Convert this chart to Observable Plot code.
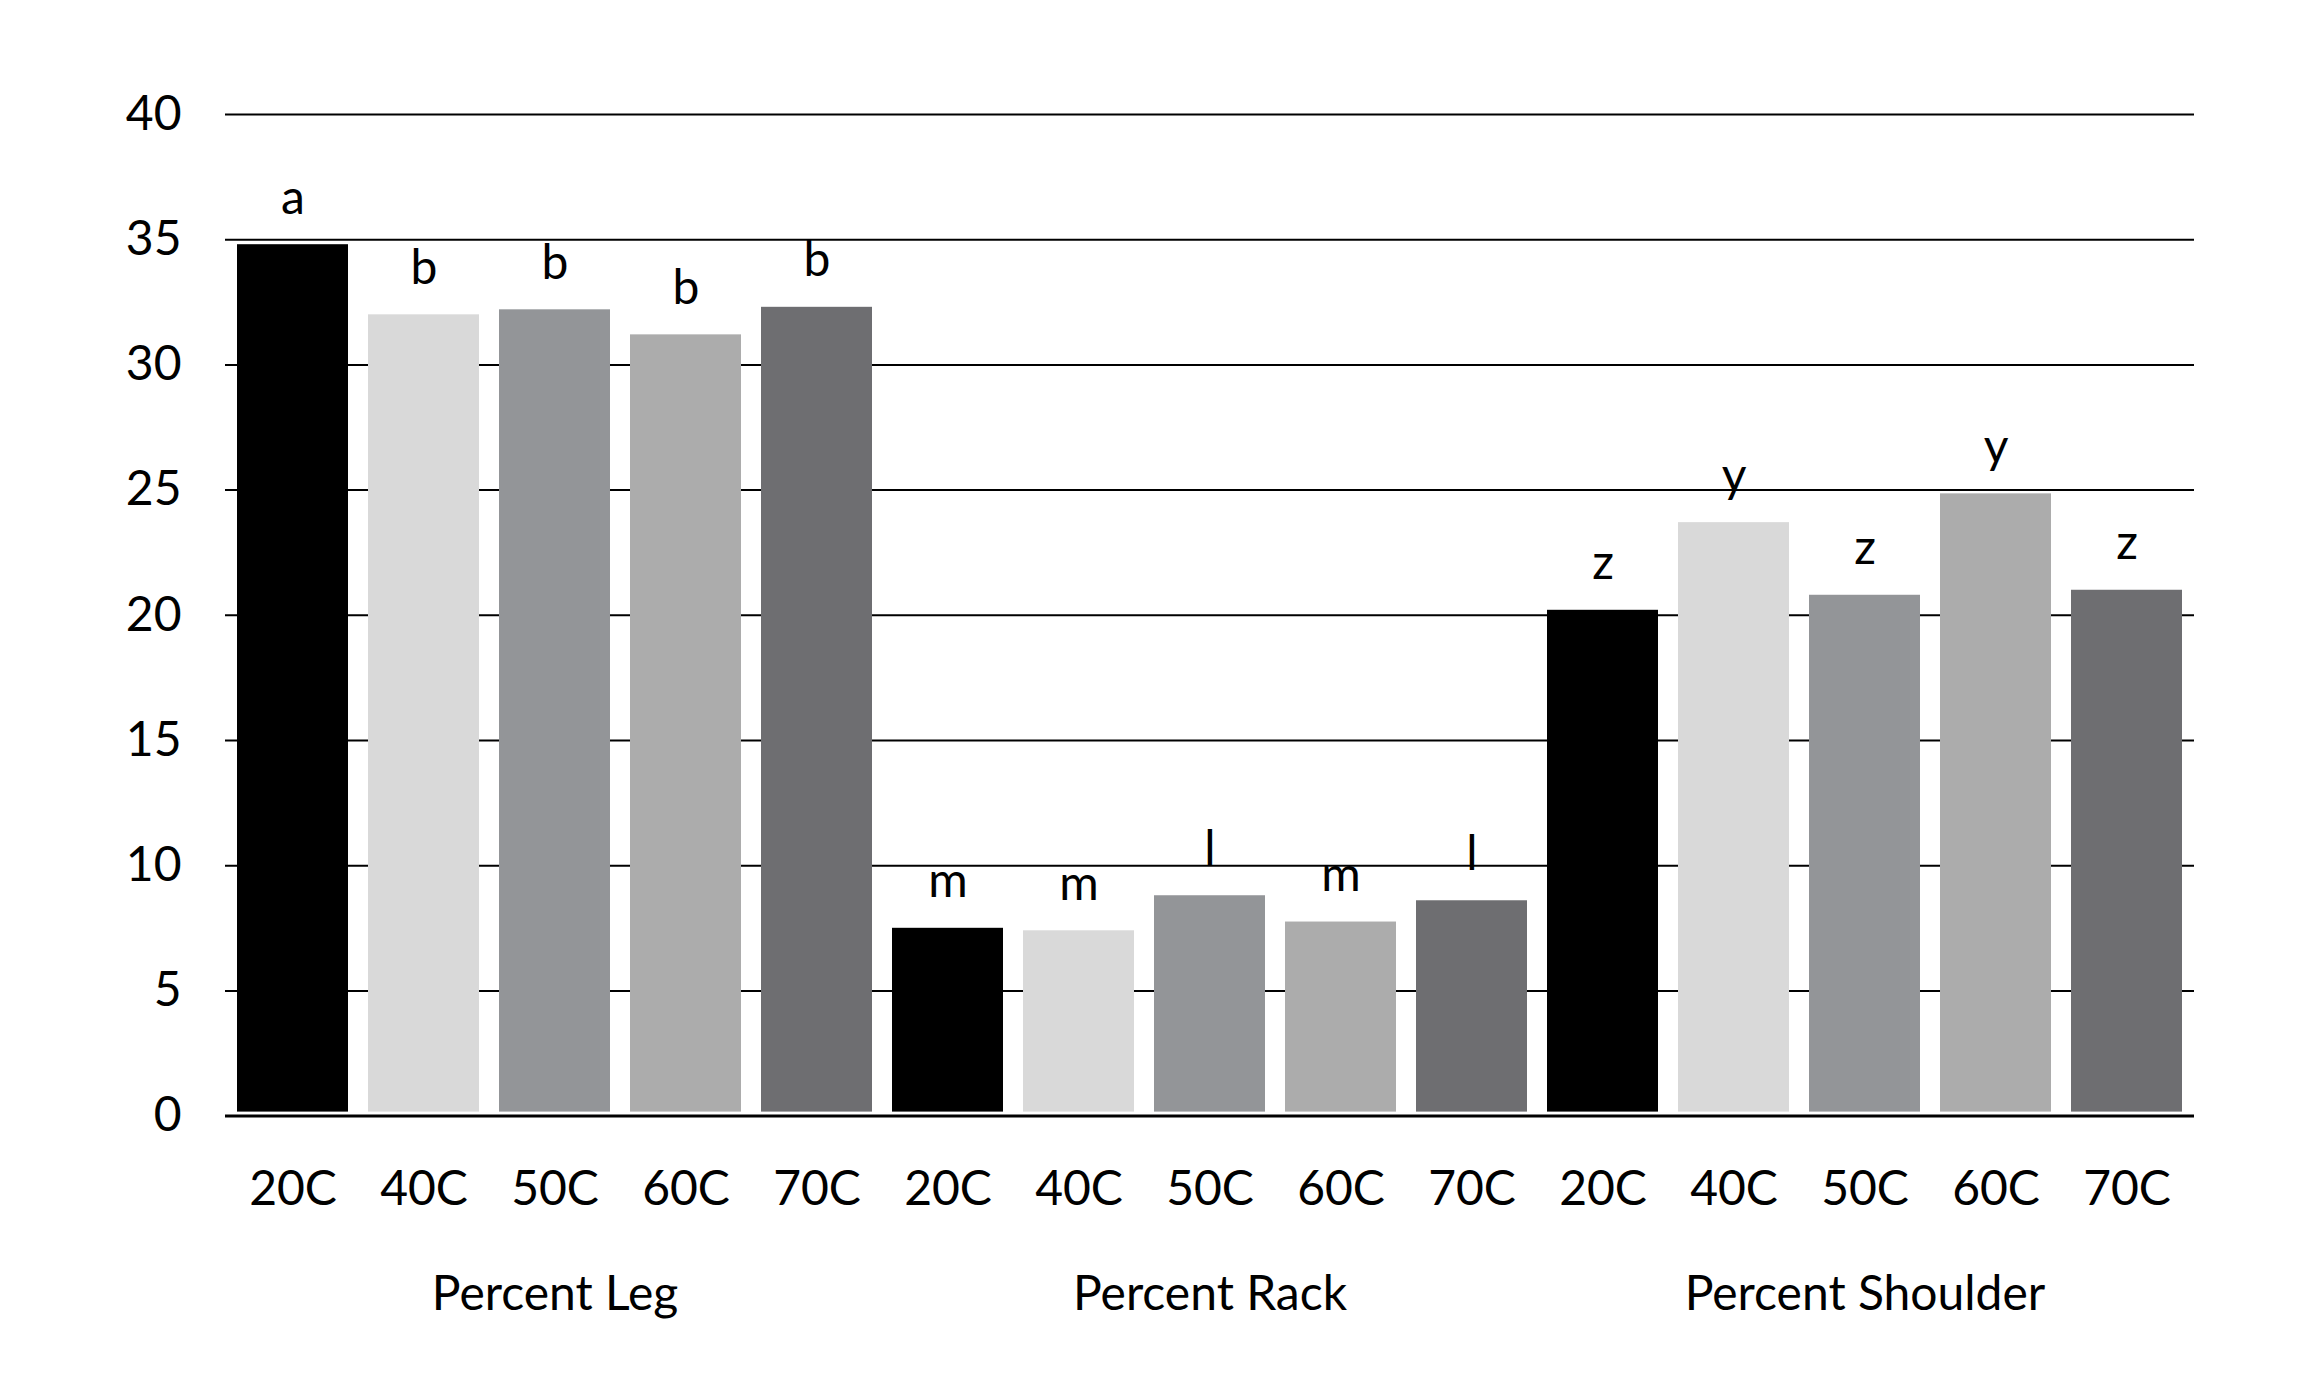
<!DOCTYPE html>
<html><head><meta charset="utf-8">
<script src="https://cdn.jsdelivr.net/npm/d3@7"></script>
<script src="https://cdn.jsdelivr.net/npm/@observablehq/plot@0.6"></script>
<style>
html,body{margin:0;padding:0;background:#fff;}
</style></head><body><div id="chart"></div>
<script>
const groups = ["Percent Leg", "Percent Rack", "Percent Shoulder"];
const temps = ["20C", "40C", "50C", "60C", "70C"];
const legValues = [34.8, 32.0, 32.2, 31.2, 32.3];
const rackValues = [7.5, 7.4, 8.8, 7.75, 8.6];
const shoulderValues = [20.2, 23.7, 20.8, 24.85, 21.0];
const legLetters = ["a", "b", "b", "b", "b"];
const rackLetters = ["m", "m", "l", "m", "l"];
const shoulderLetters = ["z", "y", "z", "y", "z"];
const tempColors = ["#000000", "#d9d9d9", "#939598", "#acacac", "#6e6e71"];
const yTicks = [0, 5, 10, 15, 20, 25, 30, 35, 40];

const seriesValues = [legValues, rackValues, shoulderValues];
const seriesLetters = [legLetters, rackLetters, shoulderLetters];
const data = [];
groups.forEach((g, gi) => {
  temps.forEach((t, ti) => {
    data.push({key: g + "|" + t, group: g, temp: t, value: seriesValues[gi][ti], letter: seriesLetters[gi][ti]});
  });
});
const keys = data.map(d => d.key);
const groupLabels = groups.map(g => ({group: g, key: g + "|" + temps[2]}));

const chart = Plot.plot({
  width: 2323,
  height: 1393,
  marginLeft: 225,
  marginRight: 129,
  marginTop: 114,
  marginBottom: 277.4,
  style: {fontFamily: "Lato, 'Open Sans', sans-serif", fontSize: "48px", color: "#000", background: "#fff"},
  x: {domain: keys, paddingInner: 0.155, paddingOuter: 0.07},
  y: {domain: [0, 40]},
  color: {domain: temps, range: tempColors},
  marks: [
    Plot.gridY(yTicks, {stroke: "#000", strokeOpacity: 1, strokeWidth: 2}),
    Plot.barY(data, {x: "key", y: "value", fill: "temp", insetBottom: 4}),
    Plot.ruleY([0], {stroke: "#000", strokeWidth: 3}),
    Plot.axisY(yTicks, {tickSize: 0, tickPadding: 44, fontSize: 48, label: null}),
    Plot.axisX({tickSize: 0, tickPadding: 55, fontSize: 48, label: null, tickFormat: d => d.split("|")[1]}),
    Plot.text(data, {x: "key", y: "value", text: "letter", lineAnchor: "bottom", dy: -31, fontSize: 48}),
    Plot.text(groupLabels, {x: "key", y: () => 0, text: "group", lineAnchor: "bottom", dy: 194, fontSize: 48})
  ]
});
document.getElementById("chart").appendChild(chart);
</script>
</body></html>
